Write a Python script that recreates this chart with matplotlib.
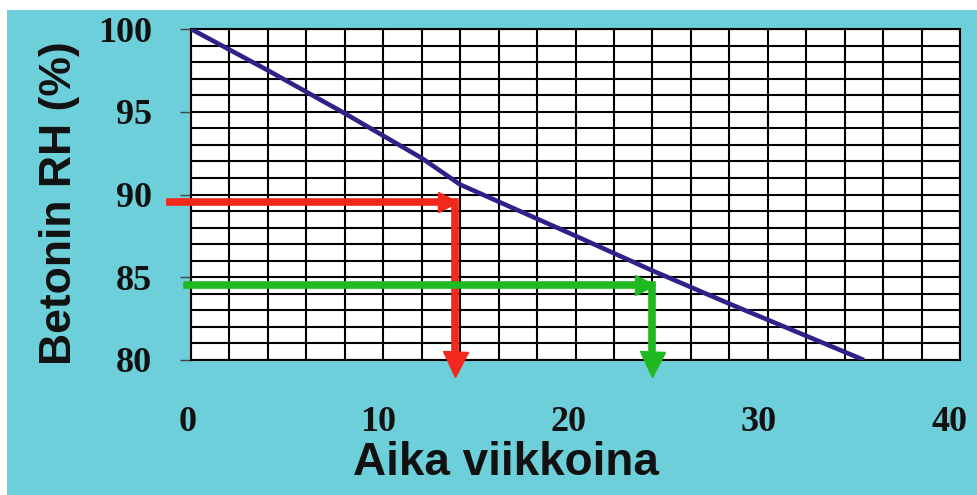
import matplotlib.pyplot as plt
import matplotlib.transforms as mtransforms
from matplotlib.patches import Rectangle
from matplotlib.ticker import MultipleLocator

# concrete RH drying curve
weeks = [0, 4, 8, 12, 14, 20, 24, 28, 35]
rh = [100, 97.5, 94.9, 92.2, 90.6, 87.5, 85.4, 83.4, 80.0]

# reading arrows: (start week, RH level, week where it turns down)
red_arrow = (-1.1, 89.55, 13.75)
green_arrow = (-0.2, 84.55, 24.0)

x_ticks = [0, 10, 20, 30, 40]
y_ticks = [80, 85, 90, 95, 100]

CYAN = '#6dcfd9'
LINE = '#2e2288'
RED = '#f3281c'
GREEN = '#1fba22'

fig = plt.figure(figsize=(9.78, 4.95), dpi=100, facecolor='white')
# cyan slide background, leaves a thin white strip top/left
fig.patches.append(Rectangle((7 / 978, 0), 1, 1 - 10 / 495,
                             transform=fig.transFigure, facecolor=CYAN,
                             edgecolor='none', zorder=-10))

ax = fig.add_axes([191 / 978, 1 - 360 / 495, 769 / 978, 331 / 495])
ax.set_facecolor('white')
ax.set_xlim(0, 40)
ax.set_ylim(80, 100)

ax.xaxis.set_minor_locator(MultipleLocator(2))
ax.yaxis.set_minor_locator(MultipleLocator(1))
ax.set_xticks(x_ticks)
ax.set_yticks(y_ticks)
ax.grid(which='both', color='black', lw=1.5, zorder=1)
ax.set_axisbelow(True)
for sp in ax.spines.values():
    sp.set_color('black')
    sp.set_linewidth(1.5)

tick_font = dict(family='Liberation Serif', weight='bold', size=26)
ax.set_xticklabels([str(t) for t in x_ticks], fontdict=tick_font, color='#111111')
ax.set_yticklabels([str(t) for t in y_ticks], fontdict=tick_font, color='#111111')
ax.tick_params(axis='x', which='both', length=0, pad=33)
ax.tick_params(axis='y', which='major', length=8, width=1, color='#444444', pad=20)
ax.tick_params(axis='y', which='minor', length=0)

# x labels in the original sit a bit left of their gridlines, more so to the right
for i, lbl in enumerate(ax.get_xticklabels()):
    shift = mtransforms.ScaledTranslation(-(3 + 2 * i) / 100, 0, fig.dpi_scale_trans)
    lbl.set_transform(lbl.get_transform() + shift)

ax.set_xlabel('Aika viikkoina', family='Liberation Sans', weight='bold',
              size=33, color='#111111')
ax.xaxis.set_label_coords(0.410, -0.245)
ax.set_ylabel('Betonin RH (%)', family='Liberation Sans', weight='bold',
              size=32, color='#111111')
ax.yaxis.set_label_coords(-0.144, 0.474)

# drying curve
ax.plot(weeks, rh, color=LINE, lw=3.3, zorder=4, solid_capstyle='butt')

# reading arrows
for (x0, level, xt), col in [(red_arrow, RED), (green_arrow, GREEN)]:
    ax.plot([x0, xt, xt], [level, level, 79.9], color=col, lw=5.5,
            clip_on=False, zorder=3, solid_joinstyle='miter')
    ax.plot([xt - 0.4], [level], marker='>', ms=15, color=col,
            clip_on=False, zorder=3)
    ax.plot([xt], [79.75], marker='v', ms=18, color=col,
            clip_on=False, zorder=3)

fig.savefig('out.png', dpi=100, facecolor=fig.get_facecolor())
